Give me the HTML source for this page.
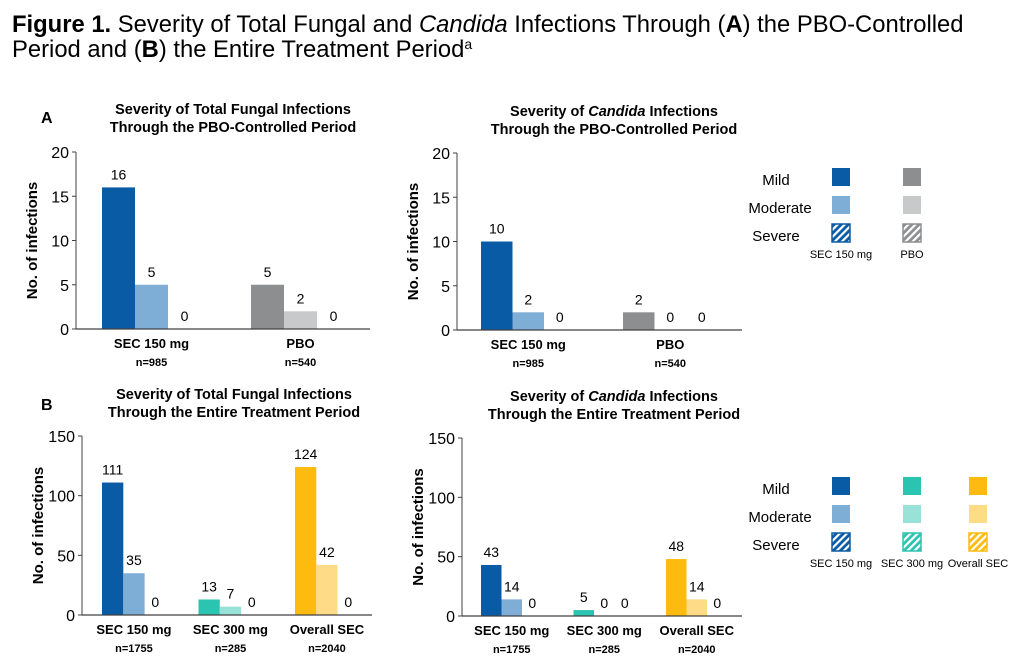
<!DOCTYPE html>
<html><head><meta charset="utf-8"><style>
body{margin:0;background:#fff;width:1036px;height:661px;overflow:hidden;font-family:"Liberation Sans",Arial,sans-serif}
svg{display:block}
</style></head><body>
<svg id="s" width="1036" height="661" xmlns="http://www.w3.org/2000/svg" font-family="Liberation Sans, Arial, sans-serif">
<defs>
<pattern id="hb" width="5" height="5" patternUnits="userSpaceOnUse" patternTransform="rotate(45)"><rect width="5" height="5" fill="#0A5BA6"/><rect width="2.2" height="5" fill="#fff"/></pattern>
<pattern id="hg" width="5" height="5" patternUnits="userSpaceOnUse" patternTransform="rotate(45)"><rect width="5" height="5" fill="#8D8E90"/><rect width="2.2" height="5" fill="#fff"/></pattern>
<pattern id="ht" width="5" height="5" patternUnits="userSpaceOnUse" patternTransform="rotate(45)"><rect width="5" height="5" fill="#2BC4B0"/><rect width="2.2" height="5" fill="#fff"/></pattern>
<pattern id="hy" width="5" height="5" patternUnits="userSpaceOnUse" patternTransform="rotate(45)"><rect width="5" height="5" fill="#FDBB10"/><rect width="2.2" height="5" fill="#fff"/></pattern>
</defs>
<text x="12" y="32" font-size="23.8" fill="#000"><tspan font-weight="bold">Figure 1.</tspan> Severity of Total Fungal and <tspan font-style="italic">Candida</tspan> Infections Through (<tspan font-weight="bold">A</tspan>) the PBO-Controlled</text>
<text x="12" y="57" font-size="23.8" fill="#000">Period and (<tspan font-weight="bold">B</tspan>) the Entire Treatment Period<tspan font-size="14" dy="-8">a</tspan></text>
<text x="41" y="123" font-size="16" font-weight="bold">A</text>
<text x="41" y="410" font-size="16" font-weight="bold">B</text>
<text x="233" y="114" font-size="14.5" font-weight="bold" text-anchor="middle">Severity of Total Fungal Infections</text>
<text x="233" y="132" font-size="14.5" font-weight="bold" text-anchor="middle">Through the PBO-Controlled Period</text>
<text x="614" y="116" font-size="14.5" font-weight="bold" text-anchor="middle">Severity of <tspan font-style="italic">Candida</tspan> Infections</text>
<text x="614" y="134" font-size="14.5" font-weight="bold" text-anchor="middle">Through the PBO-Controlled Period</text>
<text x="234" y="399" font-size="14.5" font-weight="bold" text-anchor="middle">Severity of Total Fungal Infections</text>
<text x="234" y="417" font-size="14.5" font-weight="bold" text-anchor="middle">Through the Entire Treatment Period</text>
<text x="614" y="401" font-size="14.5" font-weight="bold" text-anchor="middle">Severity of <tspan font-style="italic">Candida</tspan> Infections</text>
<text x="614" y="419" font-size="14.5" font-weight="bold" text-anchor="middle">Through the Entire Treatment Period</text>
<g id="charts"></g>
<g id="legends"></g>
</svg>
<script>
const NS="http://www.w3.org/2000/svg";
const root=document.getElementById('charts');
const legRoot=document.getElementById('legends');
// Data
const groupsA=["SEC 150 mg","PBO"];
const nA=["n=985","n=540"];
const fungalA_mild=[16,5];
const fungalA_mod=[5,2];
const fungalA_sev=[0,0];
const candidaA_mild=[10,2];
const candidaA_mod=[2,0];
const candidaA_sev=[0,0];
const groupsB=["SEC 150 mg","SEC 300 mg","Overall SEC"];
const nB=["n=1755","n=285","n=2040"];
const fungalB_mild=[111,13,124];
const fungalB_mod=[35,7,42];
const fungalB_sev=[0,0,0];
const candidaB_mild=[43,5,48];
const candidaB_mod=[14,0,14];
const candidaB_sev=[0,0,0];
const ticksA=[0,5,10,15,20];
const ticksB=[0,50,100,150];
const colsA=[["#0A5BA6","#7EADD6"],["#8D8E90","#C8C9CB"]];
const colsB=[["#0A5BA6","#7EADD6"],["#2BC4B0","#99E2D8"],["#FDBB10","#FEDB87"]];

function el(tag,attrs,parent,txt){const e=document.createElementNS(NS,tag);for(const k in attrs)e.setAttribute(k,attrs[k]);if(txt!==undefined)e.textContent=txt;parent.appendChild(e);return e;}

function chart(o){
  const g=el('g',{},root);
  
  
  const maxV=o.ticks[o.ticks.length-1];
  const y=v=>o.yBot-(v/maxV)*(o.yBot-o.yTop);
  const gx=i=>o.x0+i*o.step;
  const ya=el('line',{x1:o.ax,x2:o.ax,y1:o.yTop,y2:o.yBot,stroke:'#404040','stroke-width':1},g);
  
  
  o.ticks.forEach(t=>{
    const tk=el('line',{x1:o.ax-4,x2:o.ax,y1:y(t),y2:y(t),stroke:'#404040'},g);
    
    
    const tl=el('text',{x:o.ax-7,y:y(t)+6,'font-size':16,'text-anchor':'end'},g,String(t));
    
    
  });
  const yt=el('text',{x:0,y:0,'font-size':15,'font-weight':'bold','text-anchor':'middle',transform:`translate(${o.ax-39},${(o.yTop+o.yBot)/2}) rotate(-90)`},g,'No. of infections');
  
  
  o.groups.forEach((name,i)=>{
    const vals=[o.mild[i],o.mod[i],o.sev[i]];
    vals.forEach((v,j)=>{
      const bx=gx(i)+j*o.bw;
      if(j<2&&v>0){
        const r=el('rect',{x:bx,y:y(v),width:o.bw,height:o.yBot-y(v),fill:o.cols[i][j]},g);
        
        
      }
      const lb=el('text',{x:bx+o.bw/2,y:y(v)-8,'font-size':14,'text-anchor':'middle'},g,String(v));
      
      
    });
    const cx=gx(i)+o.bw*1.5;
    const cl=el('text',{x:cx,y:o.yBot+19,'font-size':13,'font-weight':'bold','text-anchor':'middle'},g,name);
    
    
    const nl=el('text',{x:cx,y:o.yBot+37,'font-size':11,'font-weight':'bold','text-anchor':'middle'},g,o.ns[i]);
    
    
  });
  const xa=el('line',{x1:o.ax,x2:o.xEnd,y1:o.yBot,y2:o.yBot,stroke:'#404040','stroke-width':1.3},g);
  
  
}
chart({name:'chart-a1',ax:76,yTop:152,yBot:329,xEnd:370,x0:102,step:149,bw:33,ticks:ticksA,groups:groupsA,ns:nA,mild:fungalA_mild,mod:fungalA_mod,sev:fungalA_sev,cols:colsA});
chart({name:'chart-a2',ax:457,yTop:153,yBot:330,xEnd:742,x0:481,step:142,bw:31.5,ticks:ticksA,groups:groupsA,ns:nA,mild:candidaA_mild,mod:candidaA_mod,sev:candidaA_sev,cols:colsA});
chart({name:'chart-b1',ax:82,yTop:436,yBot:615,xEnd:372,x0:102,step:96.5,bw:21.3,ticks:ticksB,groups:groupsB,ns:nB,mild:fungalB_mild,mod:fungalB_mod,sev:fungalB_sev,cols:colsB});
chart({name:'chart-b2',ax:462,yTop:438,yBot:616,xEnd:742,x0:481,step:92.5,bw:20.5,ticks:ticksB,groups:groupsB,ns:nB,mild:candidaB_mild,mod:candidaB_mod,sev:candidaB_sev,cols:colsB});

function legend(name,y0,xs,cols,hatch,labels){
  const g=el('g',{},legRoot);
  
  
  ['Mild','Moderate','Severe'].forEach((t,j)=>{
    const tx=el('text',{x:j==1?780:776,y:y0+j*28+7,'font-size':15,'text-anchor':'middle'},g,t);
    
    
  });
  xs.forEach((x,i)=>{
    for(let j=0;j<3;j++){
      const r=el('rect',{x:x,y:y0+j*28-10,width:18,height:18,fill:j<2?cols[i][j]:'url(#'+hatch[i]+')',stroke:j==2?cols[i][0]:'none','stroke-width':1.5},g);
      
      
    }
    const l=el('text',{x:x+9,y:y0+80,'font-size':11,'text-anchor':'middle'},g,labels[i]);
    
    
  });
}
legend('legend-a',178,[832,903],colsA,['hb','hg'],["SEC 150 mg","PBO"]);
legend('legend-b',487,[832,903,969],colsB,['hb','ht','hy'],["SEC 150 mg","SEC 300 mg","Overall SEC"]);
</script>
</body></html>
